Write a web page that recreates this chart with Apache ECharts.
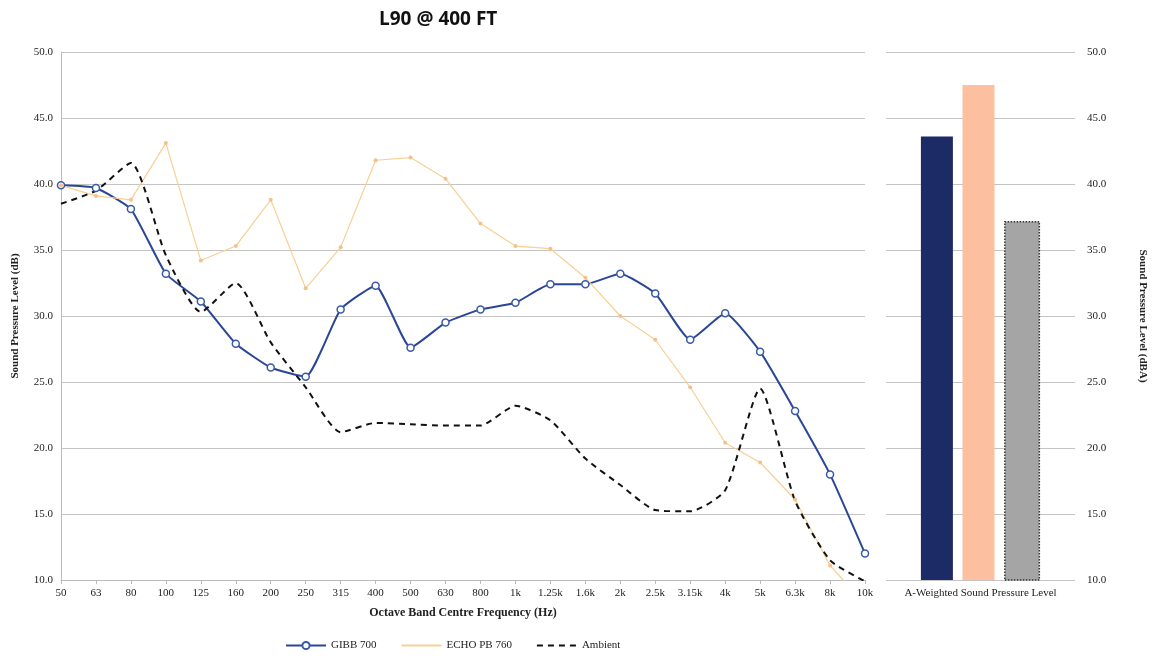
<!DOCTYPE html>
<html>
<head>
<meta charset="utf-8">
<script src="https://cdn.jsdelivr.net/npm/echarts@6/dist/echarts.min.js"></script>
<style>html,body{margin:0;padding:0;background:#fff}#c{width:1161px;height:659px}</style>
</head>
<body>
<div id="c"></div>
<script>
var categories = ['50','63','80','100','125','160','200','250','315','400','500','630','800','1k','1.25k','1.6k','2k','2.5k','3.15k','4k','5k','6.3k','8k','10k'];
var gibb700 = [39.9,39.7,38.1,33.2,31.1,27.9,26.1,25.4,30.5,32.3,27.6,29.5,30.5,31.0,32.4,32.4,33.2,31.7,28.2,30.2,27.3,22.8,18.0,12.0];
var echoPB760 = [39.9,39.1,38.8,43.1,34.2,35.3,38.8,32.1,35.2,41.8,42.0,40.4,37.0,35.3,35.1,32.9,30.0,28.2,24.6,20.4,18.9,16.1,11.1,8.2];
var ambient = [38.5,39.5,41.6,34.6,30.3,32.5,28.0,24.6,21.2,21.9,21.8,21.7,21.7,23.2,22.1,19.2,17.2,15.3,15.2,16.8,24.5,16.0,11.5,9.9];
var barCategory = ['A-Weighted Sound Pressure Level'];
var barGibb = [43.6];
var barEcho = [47.5];
var barAmbient = [37.2];

var serif = 'Liberation Serif';
var chart = echarts.init(document.getElementById('c'));
chart.setOption({
  backgroundColor: '#fff',
  animation: false,
  title: {
    text: 'L90 @ 400 FT', left: 374, top: 5,
    textStyle: {fontFamily: 'Open Sans', fontWeight: 'bold', fontSize: 19, color: '#111'}
  },
  legend: {
    bottom: 3, left: 280, itemGap: 24, itemWidth: 40, itemHeight: 9,
    textStyle: {fontFamily: serif, fontSize: 11, color: '#222'},
    data: [
      {name: 'GIBB 700'},
      {name: 'ECHO PB 760', itemStyle: {opacity: 0}},
      {name: 'Ambient', itemStyle: {opacity: 0}}
    ]
  },
  grid: [
    {left: 61, right: 296, top: 52, bottom: 79},
    {left: 886, right: 86, top: 52, bottom: 79}
  ],
  xAxis: [
    {type: 'category', gridIndex: 0, data: categories, boundaryGap: false,
     name: 'Octave Band Centre Frequency (Hz)', nameLocation: 'middle', nameGap: 27,
     nameTextStyle: {fontFamily: serif, fontWeight: 'bold', fontSize: 12, color: '#222'},
     axisLine: {lineStyle: {color: '#bbb'}}, axisTick: {lineStyle: {color: '#bbb'}, length: 4},
     axisLabel: {fontFamily: serif, fontSize: 11, color: '#222', margin: 8, interval: 0}},
    {type: 'category', gridIndex: 1, data: barCategory,
     axisLine: {show: false}, axisTick: {show: false},
     axisLabel: {fontFamily: serif, fontSize: 11, color: '#222', margin: 8}}
  ],
  yAxis: [
    {type: 'value', gridIndex: 0, min: 10, max: 50, interval: 5,
     name: 'Sound Pressure Level (dB)', nameLocation: 'middle', nameGap: 40,
     nameTextStyle: {fontFamily: serif, fontWeight: 'bold', fontSize: 11, color: '#222'},
     axisLine: {show: true, lineStyle: {color: '#bbb'}}, axisTick: {show: false},
     splitLine: {lineStyle: {color: '#c4c4c4'}},
     axisLabel: {fontFamily: serif, fontSize: 11, color: '#222', formatter: function(v){return v.toFixed(1);}}},
    {type: 'value', gridIndex: 1, position: 'right', min: 10, max: 50, interval: 5,
     name: 'Sound Pressure Level (dBA)', nameLocation: 'middle', nameGap: 62, nameRotate: -90,
     nameTextStyle: {fontFamily: serif, fontWeight: 'bold', fontSize: 11, color: '#222'},
     axisLine: {show: false}, axisTick: {show: false},
     splitLine: {lineStyle: {color: '#c4c4c4'}},
     axisLabel: {fontFamily: serif, fontSize: 11, color: '#222', margin: 12, formatter: function(v){return v.toFixed(1);}}}
  ],
  series: [
    {name: 'GIBB 700', type: 'line', xAxisIndex: 0, yAxisIndex: 0, data: gibb700,
     smooth: 0.15, symbol: 'circle', symbolSize: 7,
     lineStyle: {color: '#2a4696', width: 2},
     itemStyle: {color: '#fff', borderColor: '#3a5aa8', borderWidth: 1.5}},
    {name: 'ECHO PB 760', type: 'line', xAxisIndex: 0, yAxisIndex: 0, data: echoPB760,
     symbol: 'circle', symbolSize: 4,
     lineStyle: {color: '#f8cf94', width: 1.2},
     itemStyle: {color: '#f6c08a', borderWidth: 0}},
    {name: 'Ambient', type: 'line', xAxisIndex: 0, yAxisIndex: 0, data: ambient,
     smooth: 0.2, symbol: 'none',
     lineStyle: {color: '#111', width: 2, type: [6, 5]},
     itemStyle: {color: '#111'}},
    {name: 'GIBB 700 A', type: 'bar', xAxisIndex: 1, yAxisIndex: 1, data: barGibb,
     barWidth: 32, barGap: '30%', itemStyle: {color: '#1c2a66'}},
    {name: 'ECHO PB 760 A', type: 'bar', xAxisIndex: 1, yAxisIndex: 1, data: barEcho,
     barWidth: 32, barGap: '30%', itemStyle: {color: '#fcbf9f'}},
    {name: 'Ambient A', type: 'bar', xAxisIndex: 1, yAxisIndex: 1, data: barAmbient,
     barWidth: 36, barGap: '30%', itemStyle: {color: '#a5a5a5', borderColor: '#333', borderWidth: 1.5, borderType: 'dotted'}}
  ]
});
</script>
</body>
</html>
